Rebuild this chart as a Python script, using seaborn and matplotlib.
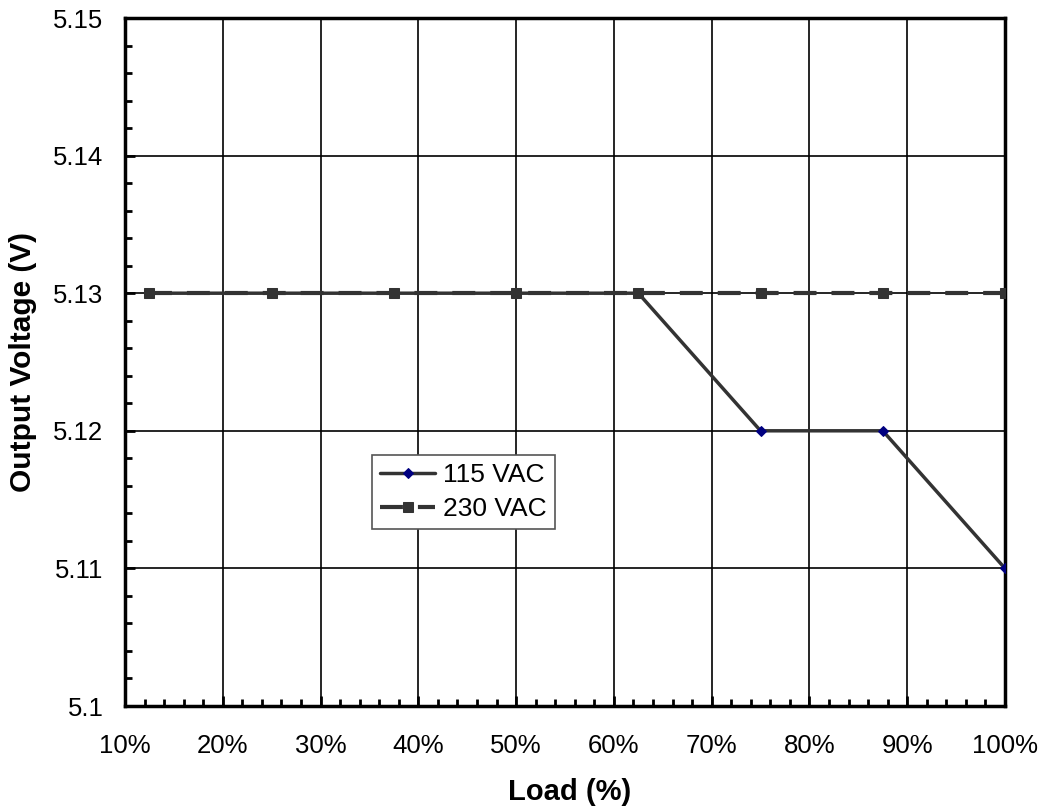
import matplotlib
matplotlib.use("Agg")
import matplotlib.pyplot as plt
import seaborn as sns
import pandas as pd
from matplotlib.ticker import MultipleLocator, FuncFormatter

load = [12.5, 25, 37.5, 50, 62.5, 75, 87.5, 100]
v115 = [5.13, 5.13, 5.13, 5.13, 5.13, 5.12, 5.12, 5.11]
v230 = [5.13, 5.13, 5.13, 5.13, 5.13, 5.13, 5.13, 5.13]
xticks = [10, 20, 30, 40, 50, 60, 70, 80, 90, 100]
yticks = [5.10, 5.11, 5.12, 5.13, 5.14, 5.15]

df115 = pd.DataFrame({"Load": load, "V": v115})
df230 = pd.DataFrame({"Load": load, "V": v230})

sns.set_style("white")
plt.rcParams['font.family'] = ['Liberation Sans', 'DejaVu Sans']
plt.rcParams['text.color'] = 'black'
plt.rcParams['axes.labelcolor'] = 'black'
plt.rcParams['xtick.color'] = 'black'
plt.rcParams['ytick.color'] = 'black'

fig = plt.figure(figsize=(10.44, 8.10), dpi=100)
ax = fig.add_axes([125/1044, 1-706/810, (1005-125)/1044, (706-18)/810])

sns.lineplot(data=df115, x="Load", y="V", ax=ax, color="#333333", lw=2.5,
             marker="D", markersize=5, markerfacecolor="#000080",
             markeredgecolor="#000080", label="115 VAC", zorder=3)
sns.lineplot(data=df230, x="Load", y="V", ax=ax, color="#333333", lw=3,
             marker="s", markersize=7, markerfacecolor="#333333",
             markeredgecolor="#333333", label="230 VAC", zorder=4)
ax.lines[-1].set_dashes([5.5, 3.6])

ax.set_xlim(10, 100)
ax.set_ylim(5.10, 5.15)
ax.set_xticks(xticks)
ax.set_yticks(yticks)
ax.xaxis.set_major_formatter(FuncFormatter(lambda v, p: f"{int(round(v))}%"))
ax.yaxis.set_major_formatter(FuncFormatter(lambda v, p: "5.1" if abs(v-5.1) < 1e-9 else f"{v:.2f}"))
ax.xaxis.set_minor_locator(MultipleLocator(2))
ax.yaxis.set_minor_locator(MultipleLocator(0.002))
ax.grid(True, which="major", color="black", lw=1.2)
ax.tick_params(which="both", direction="in", left=True, bottom=True, labelsize=18.5)
ax.tick_params(axis="x", which="major", length=7, width=2, pad=20)
ax.tick_params(axis="y", which="major", length=7, width=2, pad=15.5)
ax.tick_params(which="minor", length=5, width=2)
for s in ax.spines.values():
    s.set_color("black")
    s.set_linewidth(2.5)

ax.set_xlabel("Load (%)", fontsize=21, fontweight="bold")
ax.set_ylabel("Output Voltage (V)", fontsize=21.5, fontweight="bold")
ax.xaxis.set_label_coords((570-125)/880, -(800-706)/688)
ax.yaxis.set_label_coords(-(125-37)/880, 0.5)
ax.xaxis.label.set_va("baseline")

leg = ax.legend(loc="upper left", bbox_to_anchor=((372-125)/880, 1-(455-18)/688),
                fontsize=19, frameon=True, fancybox=False, edgecolor="#555555",
                handlelength=2.1, handletextpad=0.3, borderpad=0.3, labelspacing=0.4,
                borderaxespad=0)
leg.get_frame().set_linewidth(1.2)
leg.get_frame().set_alpha(1)

fig.savefig("out.png", dpi=100)
